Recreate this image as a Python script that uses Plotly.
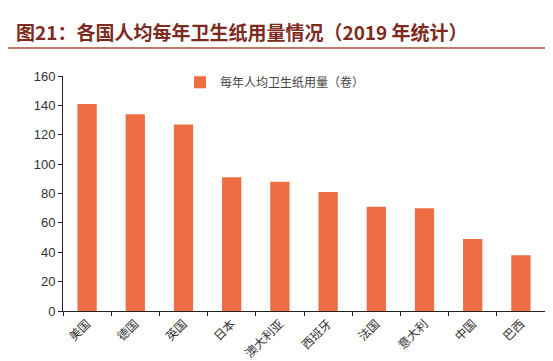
import plotly.graph_objects as go

countries = ["美国", "德国", "英国", "日本", "澳大利亚", "西班牙", "法国", "意大利", "中国", "巴西"]
rolls = [141, 134, 127, 91, 88, 81, 71, 70, 49, 38]
series_name = "每年人均卫生纸用量（卷）"
title_text = "图21：各国人均每年卫生纸用量情况（2019 年统计）"

FONT = "Liberation Sans, Arial, Noto Sans CJK SC, sans-serif"
CJK = "Noto Sans CJK SC, sans-serif"

fig = go.Figure()
fig.add_trace(go.Bar(
    x=countries, y=rolls, name=series_name,
    marker=dict(color="#EF6D43", line=dict(width=0)),
    width=0.4, showlegend=True,
))

L, R, T, B = 55, 16, 68, 58
W, H = 553, 361
pw = W - L - R
ph = H - T - B

fig.update_layout(
    width=W, height=H,
    margin=dict(l=L, r=R, t=T, b=B, autoexpand=False),
    paper_bgcolor="white", plot_bgcolor="white",
    font=dict(family=FONT, color="#333333", size=12),
    showlegend=True,
    legend=dict(x=(172 - L) / pw, y=1.035, xanchor="left", yanchor="top",
                font=dict(family=CJK, size=12, color="#444444"),
                bgcolor="rgba(0,0,0,0)", itemwidth=30),
    xaxis=dict(
        showline=True, linecolor="#222222", linewidth=1,
        ticks="outside", tickson="boundaries", ticklen=4, tickcolor="#222222",
        tickangle=-45, tickfont=dict(family=CJK, size=12, color="#333333"),
        showgrid=False, automargin=False,
    ),
    yaxis=dict(
        range=[0, 160], dtick=20,
        showline=True, linecolor="#222222", linewidth=1,
        ticks="outside", ticklen=4, tickcolor="#222222",
        tickfont=dict(family=FONT, size=13, color="#333333"),
        showgrid=False, zeroline=False, automargin=False,
    ),
    bargap=0.6,
)

fig.add_annotation(
    text="<b>" + title_text + "</b>",
    xref="paper", yref="paper",
    x=-(L - 6) / pw, y=1 + (T - 24) / ph,
    xanchor="left", yanchor="middle", showarrow=False,
    font=dict(family=CJK, size=19, color="#7E2A20"),
)
fig.add_shape(
    type="line", xref="paper", yref="paper",
    x0=-L / pw, x1=(W - L) / pw,
    y0=1 + (T - 40) / ph, y1=1 + (T - 40) / ph,
    line=dict(color="#A0522D", width=1.5),
)

fig.write_html("out.html")
